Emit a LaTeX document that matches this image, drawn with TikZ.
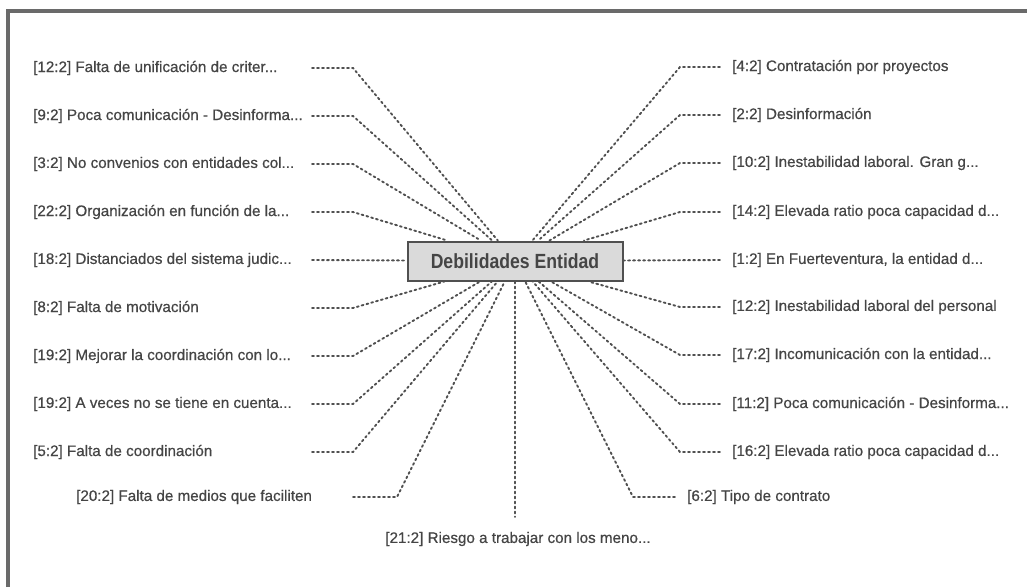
\documentclass[tikz,border=0pt]{standalone}
\usepackage{fontspec}
\newfontfamily\labelfont{Liberation Sans}[FakeBold=0.6]
\newfontfamily\hubfont{Liberation Sans}[FakeStretch=0.86]
\usetikzlibrary{positioning}
\definecolor{txtgray}{HTML}{454545}
\definecolor{dotgray}{HTML}{505050}
\definecolor{boxfill}{HTML}{DADADA}
\definecolor{framegray}{HTML}{6A6A6A}

\begin{document}
\begin{tikzpicture}[x=1pt,y=-1pt,
	item/.style={anchor=west,inner sep=0pt,text=txtgray,font=\labelfont\fontsize{15.2}{16}\selectfont},
	link/.style={dotgray,line width=1.9pt,dash pattern=on 1.9pt off 3.1pt,line cap=round},
	hubbox/.style={draw=dotgray,fill=boxfill,line width=2pt,minimum width=215pt,minimum height=39pt,inner sep=0pt,
		text=txtgray,font=\hubfont\bfseries\fontsize{20.5}{22}\selectfont}]
	\useasboundingbox (0,0) rectangle (1027,587);
	\draw[framegray,line width=4pt] (8,587) -- (8,11) -- (1027,11);

		% left column
		\node[item] (L1) at (33,68) {[12:2] Falta de unificación de criter...};
		\node[item] (L2) at (33,116) {[9:2] Poca comunicación - Desinforma...};
		\node[item] (L3) at (33,164) {[3:2] No convenios con entidades col...};
		\node[item] (L4) at (33,212) {[22:2] Organización en función de la...};
		\node[item] (L5) at (33,260) {[18:2] Distanciados del sistema judic...};
		\node[item] (L6) at (33,308) {[8:2] Falta de motivación};
		\node[item] (L7) at (33,356) {[19:2] Mejorar la coordinación con lo...};
		\node[item] (L8) at (33,404) {[19:2] A veces no se tiene en cuenta...};
		\node[item] (L9) at (33,452) {[5:2] Falta de coordinación};
		\node[item] (L10) at (76,497) {[20:2] Falta de medios que faciliten};
		% right column
		\node[item] (R1) at (732,67) {[4:2] Contratación por proyectos};
		\node[item] (R2) at (732,115) {[2:2] Desinformación};
		\node[item] (R3) at (732,163) {[10:2] Inestabilidad laboral. Gran g...};
		\node[item] (R4) at (732,212) {[14:2] Elevada ratio poca capacidad d...};
		\node[item] (R5) at (732,260) {[1:2] En Fuerteventura, la entidad d...};
		\node[item] (R6) at (732,307) {[12:2] Inestabilidad laboral del personal};
		\node[item] (R7) at (732,355) {[17:2] Incomunicación con la entidad...};
		\node[item] (R8) at (732,404) {[11:2] Poca comunicación - Desinforma...};
		\node[item] (R9) at (732,452) {[16:2] Elevada ratio poca capacidad d...};
		\node[item] (R10) at (687,497) {[6:2] Tipo de contrato};
		% bottom
		\node[item,anchor=center] (B1) at (518,539) {[21:2] Riesgo a trabajar con los meno...};

		\node[hubbox] (hub) at (515,261) {Debilidades Entidad};

		% left links
		\draw[link] (312,68) coordinate (a1) -- (353,68) coordinate (k1) -- (hub);
		\draw[link] (312,116) coordinate (a2) -- (353,116) coordinate (k2) -- (hub);
		\draw[link] (312,164) coordinate (a3) -- (353,164) coordinate (k3) -- (hub);
		\draw[link] (312,212) coordinate (a4) -- (353,212) coordinate (k4) -- (hub);
		\draw[link] (312,260) coordinate (a5) -- (hub);
		\draw[link] (312,308) coordinate (a6) -- (353,308) coordinate (k6) -- (hub);
		\draw[link] (312,356) coordinate (a7) -- (353,356) coordinate (k7) -- (hub);
		\draw[link] (312,404) coordinate (a8) -- (353,404) coordinate (k8) -- (hub);
		\draw[link] (312,452) coordinate (a9) -- (353,452) coordinate (k9) -- (hub);
		\draw[link] (353,497) coordinate (a10) -- (397,497) coordinate (k10) -- (hub);
		% right links
		\draw[link] (720,67) coordinate (b1) -- (680,67) coordinate (m1) -- (hub);
		\draw[link] (720,115) coordinate (b2) -- (680,115) coordinate (m2) -- (hub);
		\draw[link] (720,163) coordinate (b3) -- (680,163) coordinate (m3) -- (hub);
		\draw[link] (720,212) coordinate (b4) -- (680,212) coordinate (m4) -- (hub);
		\draw[link] (720,260) coordinate (b5) -- (hub);
		\draw[link] (720,307) coordinate (b6) -- (680,307) coordinate (m6) -- (hub);
		\draw[link] (720,355) coordinate (b7) -- (680,355) coordinate (m7) -- (hub);
		\draw[link] (720,404) coordinate (b8) -- (680,404) coordinate (m8) -- (hub);
		\draw[link] (720,452) coordinate (b9) -- (680,452) coordinate (m9) -- (hub);
		\draw[link] (675,497) coordinate (b10) -- (633,497) coordinate (m10) -- (hub);
		% bottom link
		\draw[link] (hub) -- (515,517) coordinate (c1);
	\end{tikzpicture}
\end{document}
